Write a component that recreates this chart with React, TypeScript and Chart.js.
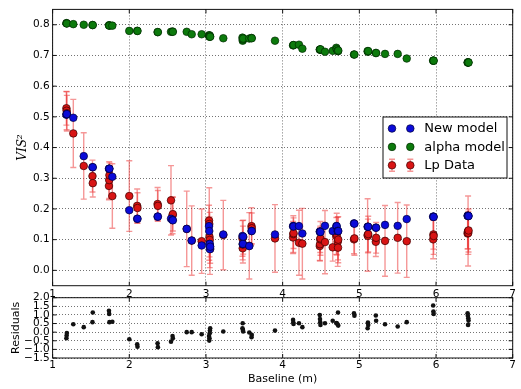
import { useEffect, useRef } from "react";
import { Chart, registerables } from "chart.js";

Chart.register(...registerables);

// Baselines (m) of each observation
const baseline = [
  1.180, 1.183, 1.186, 1.270, 1.406, 1.520, 1.524, 1.735, 1.738, 1.741,
  1.779, 2.000, 2.103, 2.107, 2.369, 2.373, 2.544, 2.564, 2.568, 2.749,
  2.814, 2.944, 3.040, 3.043, 3.046, 3.049, 3.052, 3.055, 3.226, 3.476,
  3.479, 3.482, 3.485, 3.565, 3.594, 3.597, 3.900, 4.136, 4.139, 4.142,
  4.213, 4.257, 4.484, 4.487, 4.490, 4.493, 4.552, 4.653, 4.700, 4.705,
  4.718, 4.722, 4.725, 4.930, 4.936, 5.108, 5.112, 5.116, 5.215, 5.219,
  5.335, 5.500, 5.618, 5.963, 5.966, 5.969, 6.412, 6.415, 6.418, 6.421,
  6.424,
];

// Measured squared visibilities
const lpData = [
  0.528, 0.520, 0.512, 0.446, 0.340, 0.307, 0.284, 0.275, 0.294, 0.310,
  0.242, 0.242, 0.210, 0.203, 0.216, 0.210, 0.228, 0.179, 0.183, 0.135,
  0.097, 0.095, 0.162, 0.151, 0.109, 0.099, 0.077, 0.070, 0.115, 0.104,
  0.072, 0.084, 0.108, 0.080, 0.144, 0.137, 0.104, 0.107, 0.118, 0.121,
  0.090, 0.087, 0.079, 0.085, 0.101, 0.104, 0.092, 0.075, 0.112, 0.118,
  0.093, 0.074, 0.100, 0.101, 0.104, 0.115, 0.112, 0.118, 0.093, 0.106,
  0.096, 0.106, 0.095, 0.101, 0.117, 0.112, 0.120, 0.125, 0.128, 0.122,
  0.130,
];

// 1-sigma uncertainties on the measurements
const lpError = [
  0.055, 0.062, 0.058, 0.111, 0.108, 0.052, 0.045, 0.045, 0.060, 0.040,
  0.105, 0.115, 0.055, 0.050, 0.054, 0.050, 0.113, 0.060, 0.055, 0.123,
  0.113, 0.105, 0.050, 0.118, 0.065, 0.090, 0.090, 0.047, 0.113, 0.058,
  0.038, 0.060, 0.055, 0.108, 0.060, 0.050, 0.110, 0.052, 0.060, 0.050,
  0.106, 0.115, 0.047, 0.054, 0.043, 0.055, 0.103, 0.045, 0.060, 0.068,
  0.080, 0.040, 0.075, 0.047, 0.055, 0.118, 0.055, 0.058, 0.048, 0.050,
  0.115, 0.115, 0.118, 0.063, 0.048, 0.060, 0.050, 0.055, 0.114, 0.070,
  0.070,
];

// New model prediction
const newModel = [
  0.507, 0.508, 0.509, 0.497, 0.372, 0.336, 0.336, 0.331, 0.331, 0.331,
  0.305, 0.196, 0.168, 0.168, 0.175, 0.175, 0.168, 0.164, 0.163, 0.135,
  0.097, 0.081, 0.144, 0.128, 0.086, 0.086, 0.069, 0.077, 0.117, 0.112,
  0.086, 0.086, 0.110, 0.079, 0.128, 0.128, 0.117, 0.144, 0.144, 0.143,
  0.144, 0.120, 0.126, 0.126, 0.126, 0.125, 0.145, 0.128, 0.144, 0.144,
  0.128, 0.128, 0.128, 0.153, 0.152, 0.142, 0.142, 0.142, 0.139, 0.139,
  0.148, 0.145, 0.167, 0.175, 0.175, 0.174, 0.178, 0.178, 0.177, 0.177,
  0.177,
];

// Alpha model prediction
const alphaModel = [
  0.805, 0.805, 0.804, 0.802, 0.800, 0.799, 0.799, 0.798, 0.798, 0.797,
  0.797, 0.780, 0.780, 0.780, 0.776, 0.776, 0.777, 0.778, 0.777, 0.777,
  0.769, 0.769, 0.766, 0.763, 0.761, 0.765, 0.762, 0.761, 0.756, 0.758,
  0.748, 0.752, 0.755, 0.755, 0.757, 0.756, 0.748, 0.733, 0.733, 0.734,
  0.735, 0.722, 0.719, 0.719, 0.719, 0.720, 0.712, 0.715, 0.725, 0.720,
  0.715, 0.714, 0.716, 0.703, 0.703, 0.714, 0.712, 0.714, 0.708, 0.708,
  0.705, 0.705, 0.690, 0.683, 0.683, 0.683, 0.677, 0.677, 0.678, 0.677,
  0.677,
];

// Normalised residuals of the new model
const residuals = [
  -0.35, -0.20, -0.05, 0.46, 0.29, 0.58, 1.14, 1.24, 1.06, 0.58,
  0.60, -0.41, -0.70, -0.84, -0.64, -0.87, -0.55, -0.22, -0.35, 0.00,
  0.00, -0.12, -0.22, -0.49, -0.35, -0.06, 0.09, 0.23, 0.04, 0.23,
  0.52, 0.13, 0.04, -0.02, -0.29, -0.16, 0.09, 0.71, 0.56, 0.48,
  0.52, 0.29, 1.00, 0.76, 0.58, 0.42, 0.52, 0.66, 0.53, 0.52,
  0.44, 1.14, 0.38, 1.10, 0.95, 0.23, 0.56, 0.42, 0.97, 0.66,
  0.46, 0.33, 0.58, 1.55, 1.20, 1.06, 1.10, 0.95, 0.42, 0.81,
  0.67,
];

const xTicks = [1, 2, 3, 4, 5, 6, 7];
const visTicks = [0.0, 0.1, 0.2, 0.3, 0.4, 0.5, 0.6, 0.7, 0.8];
const residTicks = [-1.5, -1.0, -0.5, 0.0, 0.5, 1.0, 1.5, 2.0];
const seriesLabels = ["New model", "alpha model", "Lp Data"];

const W = 521;
const H = 389;
const PLOT_LEFT = 52.6;
const PLOT_RIGHT = 512.7;
const TOP_PANEL = { top: 9.4, bottom: 285.7 };
const BOTTOM_PANEL = { top: 297.7, bottom: 358 };

const BLUE = { fill: "#0b0bd8", edge: "#00003a" };
const GREEN = { fill: "#0c7a0c", edge: "#002a00" };
const RED = { fill: "#d81414", edge: "#3a0000" };
const ERR_COLOR = "rgba(236, 48, 48, 0.5)";
const GRID_COLOR = "rgba(0, 0, 0, 0.55)";
const TICK_FONT = { family: "DejaVu Sans", size: 10.5 };

const fmtTick = (v: number) => v.toFixed(1).replace("-", "\u2212");

// Axes frame with inward ticks on all four sides
const framePlugin = {
  id: "frame",
  afterDraw(chart: any) {
    const { ctx, chartArea: a, scales } = chart;
    ctx.save();
    ctx.strokeStyle = "#111";
    ctx.lineWidth = 1;
    ctx.beginPath();
    for (const t of scales.x.ticks) {
      const px = scales.x.getPixelForValue(t.value);
      ctx.moveTo(px, a.top);
      ctx.lineTo(px, a.top + 4);
      ctx.moveTo(px, a.bottom);
      ctx.lineTo(px, a.bottom - 4);
    }
    for (const t of scales.y.ticks) {
      const py = scales.y.getPixelForValue(t.value);
      ctx.moveTo(a.left, py);
      ctx.lineTo(a.left + 4, py);
      ctx.moveTo(a.right, py);
      ctx.lineTo(a.right - 4, py);
    }
    ctx.stroke();
    ctx.strokeRect(a.left, a.top, a.right - a.left, a.bottom - a.top);
    ctx.restore();
  },
};

// Vertical error bars with caps under the Lp Data markers
const errorBarPlugin = {
  id: "errorBars",
  beforeDatasetsDraw(chart: any) {
    const { ctx, scales } = chart;
    const { x, y } = scales;
    ctx.save();
    ctx.strokeStyle = ERR_COLOR;
    ctx.lineWidth = 1.4;
    baseline.forEach((b, i) => {
      const px = x.getPixelForValue(b);
      const top = y.getPixelForValue(lpData[i] + lpError[i]);
      const bot = y.getPixelForValue(lpData[i] - lpError[i]);
      ctx.beginPath();
      ctx.moveTo(px, top);
      ctx.lineTo(px, bot);
      ctx.moveTo(px - 3, top);
      ctx.lineTo(px + 3, top);
      ctx.moveTo(px - 3, bot);
      ctx.lineTo(px + 3, bot);
      ctx.stroke();
    });
    ctx.restore();
  },
};

function drawMarker(ctx: CanvasRenderingContext2D, x: number, y: number, c: { fill: string; edge: string }) {
  ctx.beginPath();
  ctx.arc(x, y, 3.8, 0, Math.PI * 2);
  ctx.fillStyle = c.fill;
  ctx.fill();
  ctx.lineWidth = 0.7;
  ctx.strokeStyle = c.edge;
  ctx.stroke();
}

// Legend box with two sample markers per entry
const legendPlugin = {
  id: "legendBox",
  afterDraw(chart: any) {
    const { ctx, chartArea: a } = chart;
    const w = 124;
    const h = 61;
    const left = a.right - 5.7 - w;
    const top = a.top + 107.6;
    const styles = [BLUE, GREEN, RED];
    ctx.save();
    ctx.fillStyle = "#fff";
    ctx.fillRect(left, top, w, h);
    ctx.strokeStyle = "#111";
    ctx.lineWidth = 1;
    ctx.strokeRect(left, top, w, h);
    seriesLabels.forEach((label, i) => {
      const cy = top + 11.5 + i * 18.4;
      for (const mx of [left + 9, left + 27.3]) {
        if (i === 2) {
          ctx.strokeStyle = ERR_COLOR;
          ctx.lineWidth = 1.4;
          ctx.beginPath();
          ctx.moveTo(mx, cy - 6);
          ctx.lineTo(mx, cy + 6);
          ctx.moveTo(mx - 3, cy - 6);
          ctx.lineTo(mx + 3, cy - 6);
          ctx.moveTo(mx - 3, cy + 6);
          ctx.lineTo(mx + 3, cy + 6);
          ctx.stroke();
        }
        drawMarker(ctx, mx, cy, styles[i]);
      }
      ctx.fillStyle = "#000";
      ctx.font = '13px "DejaVu Sans"';
      ctx.textBaseline = "middle";
      ctx.textAlign = "left";
      ctx.fillText(label, left + 41.3, cy + 0.5);
    });
    ctx.restore();
  },
};

function xScale(showTitle: boolean, tickPad: number, height: number) {
  return {
    type: "linear",
    min: 1,
    max: 7,
    afterBuildTicks: (s: any) => {
      s.ticks = xTicks.map((v) => ({ value: v }));
    },
    afterFit: (s: any) => {
      s.height = height;
    },
    grid: { color: GRID_COLOR, lineWidth: 1, drawTicks: false },
    border: { display: false, dash: [1, 2] },
    ticks: {
      padding: tickPad,
      color: "#000",
      font: TICK_FONT,
      autoSkip: false,
      maxRotation: 0,
      callback: (v: any) => String(v),
    },
    title: {
      display: showTitle,
      text: "Baseline (m)",
      color: "#000",
      font: { family: "DejaVu Sans", size: 11 },
      padding: { top: 0, bottom: 2.8 },
    },
  };
}

function yScale(min: number, max: number, ticks: number[], title: string, titleFont: any, titleOffset: number) {
  return {
    type: "linear",
    min,
    max,
    afterBuildTicks: (s: any) => {
      s.ticks = ticks.map((v) => ({ value: v }));
    },
    afterFit: (s: any) => {
      s.width = PLOT_LEFT;
    },
    grid: { color: GRID_COLOR, lineWidth: 1, drawTicks: false },
    border: { display: false, dash: [1, 2] },
    ticks: {
      padding: 3,
      color: "#000",
      font: TICK_FONT,
      autoSkip: false,
      callback: (v: any) => fmtTick(Number(v)),
    },
    title: {
      display: true,
      text: title,
      color: "#000",
      font: titleFont,
      padding: { top: titleOffset, bottom: 0 },
    },
  };
}

export default function App() {
  const topRef = useRef<HTMLCanvasElement>(null);
  const bottomRef = useRef<HTMLCanvasElement>(null);

  useEffect(() => {
    Chart.defaults.font.family = "DejaVu Sans";

    const point = (ys: number[]) => baseline.map((b, i) => ({ x: b, y: ys[i] }));

    const visChart = new Chart(topRef.current as HTMLCanvasElement, {
      type: "scatter",
      data: {
        datasets: [
          {
            label: seriesLabels[0],
            data: point(newModel),
            pointRadius: 3.8,
            pointBackgroundColor: BLUE.fill,
            pointBorderColor: BLUE.edge,
            pointBorderWidth: 0.7,
          },
          {
            label: seriesLabels[1],
            data: point(alphaModel),
            pointRadius: 3.8,
            pointBackgroundColor: GREEN.fill,
            pointBorderColor: GREEN.edge,
            pointBorderWidth: 0.7,
          },
          {
            label: seriesLabels[2],
            data: point(lpData),
            pointRadius: 3.8,
            pointBackgroundColor: RED.fill,
            pointBorderColor: RED.edge,
            pointBorderWidth: 0.7,
          },
        ],
      },
      options: {
        responsive: false,
        animation: false,
        events: [],
        layout: {
          padding: {
            left: 0,
            right: W - PLOT_RIGHT,
            top: TOP_PANEL.top,
            bottom: H - TOP_PANEL.bottom - 20,
          },
        },
        scales: {
          x: xScale(false, 2, 20) as any,
          y: yScale(
            -0.05,
            0.85,
            visTicks,
            "VIS\u00B2",
            { family: "DejaVu Serif", style: "italic", size: 12 },
            15.3
          ) as any,
        },
        plugins: { legend: { display: false }, tooltip: { enabled: false } },
      },
      plugins: [errorBarPlugin, framePlugin, legendPlugin],
    });

    const residChart = new Chart(bottomRef.current as HTMLCanvasElement, {
      type: "scatter",
      data: {
        datasets: [
          {
            label: "Residuals",
            data: point(residuals),
            pointRadius: 2.3,
            pointBackgroundColor: "#111",
            pointBorderColor: "#111",
            pointBorderWidth: 0,
          },
        ],
      },
      options: {
        responsive: false,
        animation: false,
        events: [],
        layout: {
          padding: {
            left: 0,
            right: W - PLOT_RIGHT,
            top: BOTTOM_PANEL.top,
            bottom: 0,
          },
        },
        scales: {
          x: xScale(true, 1.2, H - BOTTOM_PANEL.bottom) as any,
          y: yScale(
            -1.5,
            2.0,
            residTicks,
            "Residuals",
            { family: "DejaVu Sans", size: 11 },
            9.4
          ) as any,
        },
        plugins: { legend: { display: false }, tooltip: { enabled: false } },
      },
      plugins: [framePlugin],
    });

    return () => {
      visChart.destroy();
      residChart.destroy();
    };
  }, []);

  const canvasStyle: React.CSSProperties = { position: "absolute", left: 0, top: 0 };

  return (
    <div style={{ position: "fixed", left: 0, top: 0, width: W, height: H, background: "#fff" }}>
      <canvas ref={topRef} width={W} height={H} style={canvasStyle} />
      <canvas ref={bottomRef} width={W} height={H} style={canvasStyle} />
    </div>
  );
}
